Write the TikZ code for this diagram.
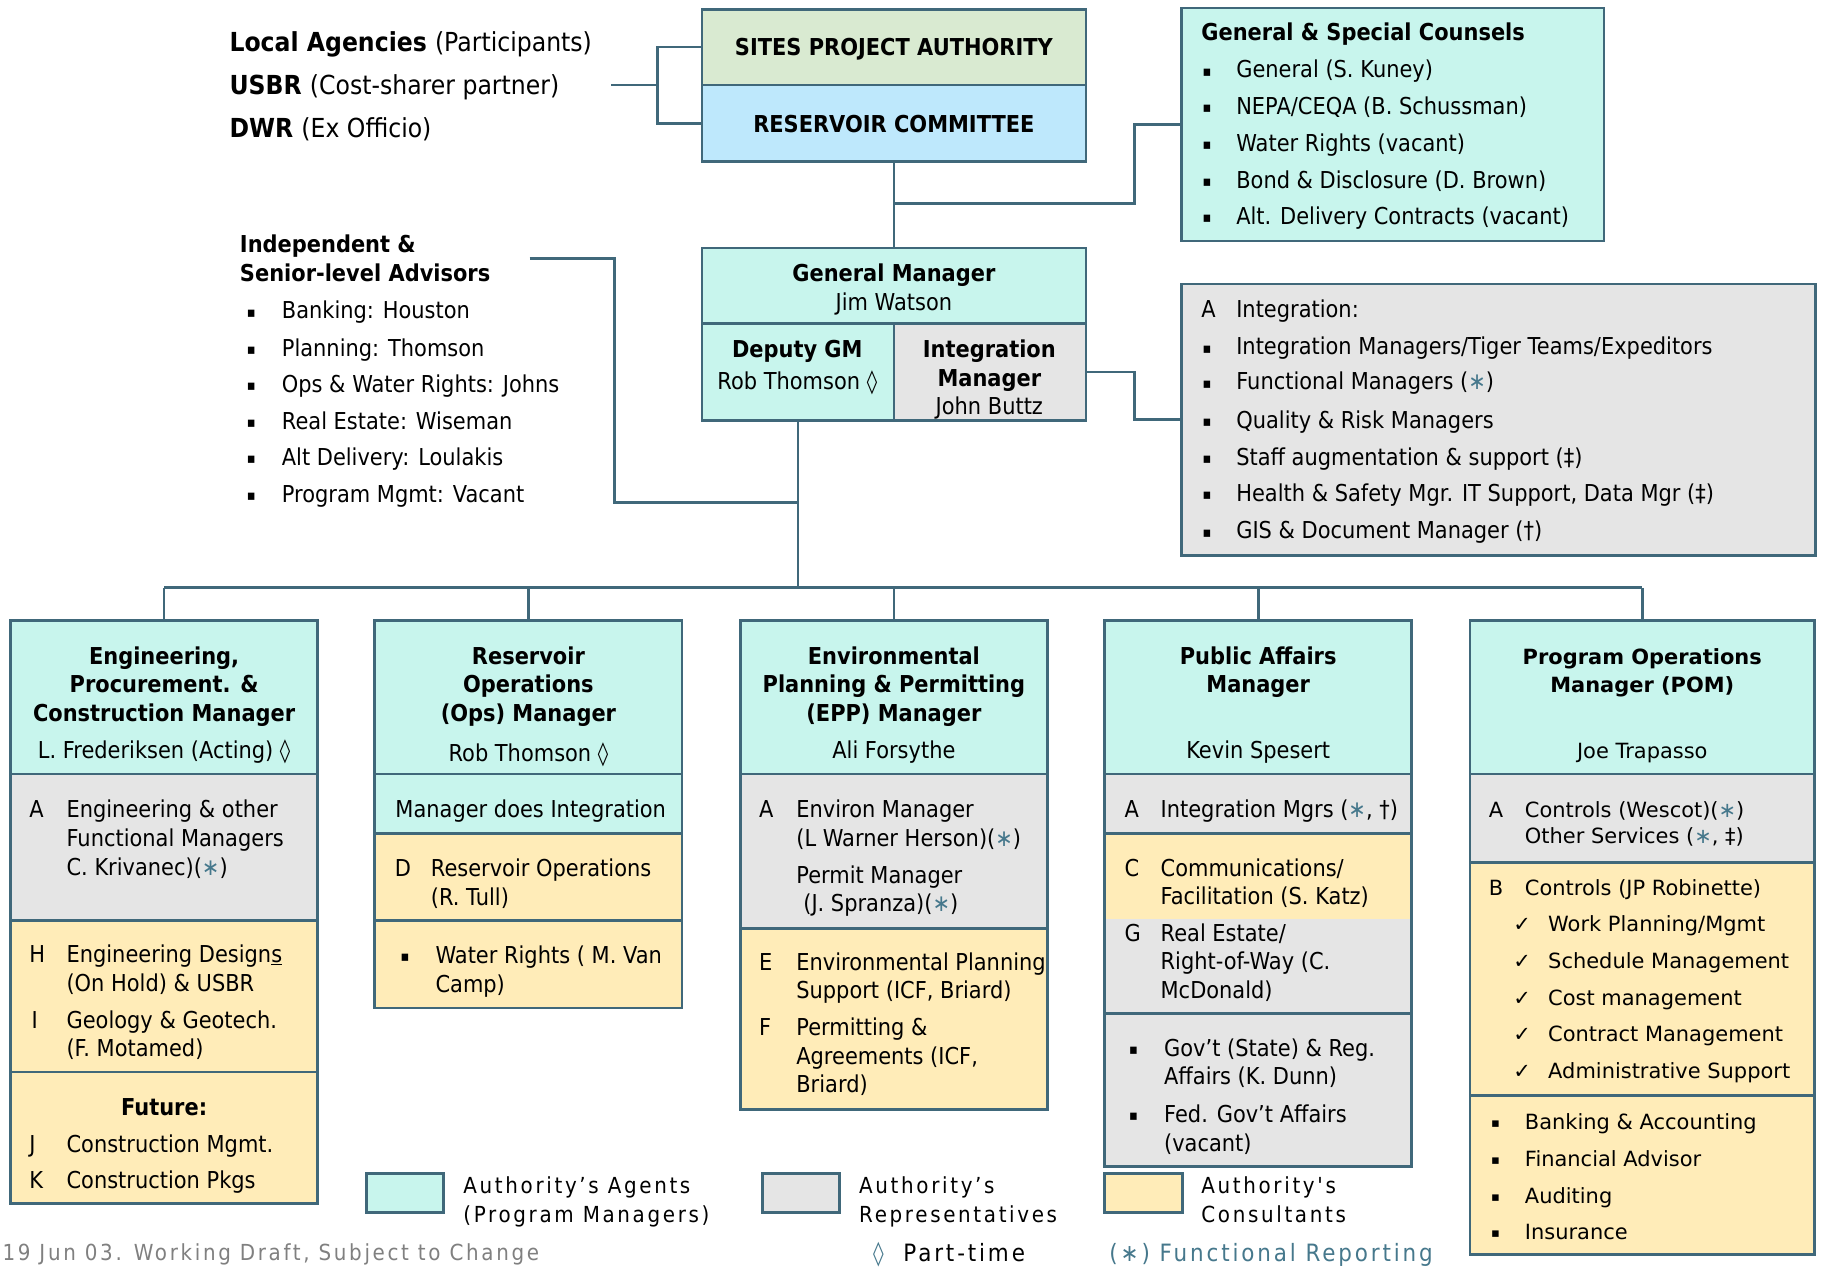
\documentclass[tikz,border=0pt]{standalone}
\usepackage{fontspec}
\setmainfont{DejaVu Sans}[FakeStretch=0.9]
\newfontfamily\verdfont{DejaVu Sans}
\newfontfamily\legfont{DejaVu Sans}[FakeStretch=0.9,LetterSpace=12]
\usetikzlibrary{fit}

\definecolor{agent}{RGB}{200,245,237}
\definecolor{rep}{RGB}{229,229,229}
\definecolor{cons}{RGB}{255,236,184}
\definecolor{auth}{RGB}{217,234,209}
\definecolor{comm}{RGB}{190,232,252}
\definecolor{edge}{RGB}{64,104,122}
\definecolor{star}{RGB}{70,120,140}
\definecolor{footgray}{RGB}{128,128,128}

\newcounter{tn}
\tikzset{
  tx/.style={anchor=base west, inner sep=0pt, font=\fontsize{20}{24}\selectfont},
  pom/.style={font=\verdfont\fontsize{18}{22}\selectfont},
  big/.style={font=\fontsize{22.5}{26}\selectfont},
  leg/.style={font=\legfont\fontsize{19}{23}\selectfont},
  legb/.style={font=\legfont\fontsize{20.5}{24}\selectfont},
  foot/.style={font=\legfont\fontsize{19}{22}\selectfont, text=footgray},
  box/.style={draw=edge, line width=2.3pt, inner sep=0pt},
  conn/.style={draw=edge, line width=2.3pt},
}
% text line: left aligned / centred, y given as visual middle of the line
\newcommand\tl[4][]{\stepcounter{tn}\node[tx,#1] (t\arabic{tn}) at (#2,{#3+7}) {#4};}
\newcommand\tc[4][]{\stepcounter{tn}\node[tx,anchor=base,#1] (t\arabic{tn}) at (#2,{#3+7}) {#4};}
\newcommand\bul{\raisebox{1.6pt}{\scalebox{0.62}{▪}}}
\newcommand\fstar{\textcolor{star}{∗}}
% section box from (x1,y1) to (x2,y2)
\newcommand\secbox[5][]{\node[box,fill=#5,fit={(#3) (#4)},#1] (#2) {};}

\begin{document}
\begin{tikzpicture}[x=1pt,y=-1pt]
\fill[white] (0,0) rectangle (1568,1089);
\useasboundingbox (0,0) rectangle (1568,1089);

% ---------- top boxes ----------
\secbox{sites}{603,8}{933,73}{auth}
\secbox{rc}{603,73}{933,139}{comm}
\secbox{cs}{1015,7}{1378,207}{agent}
\secbox{gm}{603,213}{933,278}{agent}
\secbox{dep}{603,278}{768,361}{agent}
\secbox{im}{768,278}{933,361}{rep}
\secbox{ib}{1015,244}{1560,477}{rep}

% ---------- columns ----------
\secbox{c1h}{9,533}{273,665}{agent}
\secbox{c1a}{9,665}{273,791}{rep}
\secbox{c1b}{9,791}{273,921}{cons}
\secbox{c1c}{9,921}{273,1034}{cons}

\secbox{c2h}{322,533}{586,665}{agent}
\secbox{c2a}{322,665}{586,716}{agent}
\secbox{c2b}{322,716}{586,791}{cons}
\secbox{c2c}{322,791}{586,866}{cons}

\secbox{c3h}{636,533}{900,665}{agent}
\secbox{c3a}{636,665}{900,798}{rep}
\secbox{c3b}{636,798}{900,953}{cons}

\secbox{c4h}{949,533}{1213,665}{agent}
\secbox{c4a}{949,665}{1213,716}{rep}
\secbox[draw=none]{c4c}{949,716}{1213,790}{cons}
\secbox[draw=none]{c4g}{949,790}{1213,871}{rep}
\node[box,fit={(949,716) (1213,871)}] (c4cg) {};
\secbox{c4d}{949,871}{1213,1002}{rep}

\secbox{c5h}{1263,533}{1559,665}{agent}
\secbox{c5a}{1263,665}{1559,741}{rep}
\secbox{c5b}{1263,741}{1559,941}{cons}
\secbox{c5c}{1263,941}{1559,1078}{cons}

% ---------- connectors ----------
\coordinate (ag) at (525,73);
\coordinate (ax) at (565,73);
\draw[conn] (ag) -- (ax);
\draw[conn] (sites.west) -- (sites.west -| ax) -- (rc.west -| ax) -- (rc.west);

\coordinate (j1) at (975,175);
\draw[conn] (rc.south) -- (gm.north);
\draw[conn] (rc.south |- j1) -- (j1) -- (j1 |- cs.west) -- (cs.west);
\draw[conn] (im.east) -| (j1 |- ib.west) -- (ib.west);

\coordinate (adv) at (455,222);
\coordinate (aj) at (528,432);
\draw[conn] (adv) -| (aj) -- (aj -| dep.south);

\coordinate (bus) at (0,505);
\draw[conn] (dep.south) -- (dep.south |- bus);
\draw[conn] (c1h.north |- bus) -- (c5h.north |- bus);
\foreach \c in {c1h,c2h,c3h,c4h,c5h}
  \draw[conn] (\c.north |- bus) -- (\c.north);

% ---------- top-left participants ----------
\tl[big]{197}{37}{\bfseries Local Agencies \mdseries(Participants)}
\tl[big]{197}{74}{\bfseries USBR \mdseries(Cost-sharer partner)}
\tl[big]{197}{111}{\bfseries DWR \mdseries(Ex Officio)}

\tc[font=\fontsize{20}{24}\selectfont\bfseries]{768}{41}{SITES PROJECT AUTHORITY}
\tc[font=\fontsize{20}{24}\selectfont\bfseries]{768}{107}{RESERVOIR COMMITTEE}

% ---------- counsels ----------
\tl{1032}{28}{\bfseries General \& Special Counsels}
\foreach \yy/\t in {60/{General (S. Kuney)}, 91/{NEPA/CEQA (B. Schussman)}, 123/{Water Rights (vacant)},
  155/{Bond \& Disclosure (D. Brown)}, 186/{Alt. Delivery Contracts (vacant)}}{
  \tl{1033}{\yy}{\bul}
  \tl{1062}{\yy}{\t}
}

% ---------- advisors ----------
\tl{206}{210}{\bfseries Independent \&}
\tl{206}{235}{\bfseries Senior-level Advisors}
\foreach \yy/\t in {267/{Banking: Houston}, 299/{Planning: Thomson}, 330/{Ops \& Water Rights: Johns},
  362/{Real Estate: Wiseman}, 393/{Alt Delivery: Loulakis}, 425/{Program Mgmt: Vacant}}{
  \tl{212}{\yy}{\bul}
  \tl{242}{\yy}{\t}
}

% ---------- general manager ----------
\tc{768}{235}{\bfseries General Manager}
\tc{768}{260}{Jim Watson}
\tc{685}{300}{\bfseries Deputy GM}
\tc{685}{328}{Rob Thomson ◊}
\tc{850}{300}{\bfseries Integration}
\tc{850}{325}{\bfseries Manager}
\tc{850}{349}{John Buttz}

% ---------- integration ----------
\tl{1032}{266}{A}
\tl{1062}{266}{Integration:}
\tl{1033}{298}{\bul}\tl{1062}{298}{Integration Managers/Tiger Teams/Expeditors}
\tl{1033}{328}{\bul}\tl{1062}{328}{Functional Managers (\fstar)}
\tl{1033}{361}{\bul}\tl{1062}{361}{Quality \& Risk Managers}
\tl{1033}{393}{\bul}\tl{1062}{393}{Staff augmentation \& support (‡)}
\tl{1033}{424}{\bul}\tl{1062}{424}{Health \& Safety Mgr. IT Support, Data Mgr (‡)}
\tl{1033}{456}{\bul}\tl{1062}{456}{GIS \& Document Manager (†)}

% ---------- column 1 ----------
\tc{141}{564}{\bfseries Engineering,}
\tc{141}{588}{\bfseries Procurement. \&}
\tc{141}{613}{\bfseries Construction Manager}
\tc{141}{645}{L. Frederiksen (Acting) ◊}
\tl{25}{695}{A}\tl{57}{695}{Engineering \& other}
\tl{57}{720}{Functional Managers}
\tl{57}{745}{C. Krivanec)(\fstar)}
\tl{25}{820}{H}\tl{57}{820}{Engineering Design\underline{s}}
\tl{57}{845}{(On Hold) \& USBR}
\tl{27}{877}{I}\tl{57}{877}{Geology \& Geotech.}
\tl{57}{901}{(F. Motamed)}
\tc{141}{951}{\bfseries Future:}
\tl{25}{983}{J}\tl{57}{983}{Construction Mgmt.}
\tl{25}{1014}{K}\tl{57}{1014}{Construction Pkgs}

% ---------- column 2 ----------
\tc{454}{564}{\bfseries Reservoir}
\tc{454}{588}{\bfseries Operations}
\tc{454}{613}{\bfseries (Ops) Manager}
\tc{454}{647}{Rob Thomson ◊}
\tc{456}{695}{Manager does Integration}
\tl{339}{746}{D}\tl{370}{746}{Reservoir Operations}
\tl{370}{771}{(R. Tull)}
\tl{344}{821}{\bul}\tl{374}{821}{Water Rights ( M. Van}
\tl{374}{846}{Camp)}

% ---------- column 3 ----------
\tc{768}{564}{\bfseries Environmental}
\tc{768}{588}{\bfseries Planning \& Permitting}
\tc{768}{613}{\bfseries (EPP) Manager}
\tc{768}{645}{Ali Forsythe}
\tl{652}{695}{A}\tl{684}{695}{Environ Manager}
\tl{684}{720}{(L Warner Herson)(\fstar)}
\tl{684}{752}{Permit Manager}
\tl{690}{776}{(J. Spranza)(\fstar)}
\tl{652}{827}{E}\tl{684}{827}{Environmental Planning}
\tl{684}{851}{Support (ICF, Briard)}
\tl{652}{883}{F}\tl{684}{883}{Permitting \&}
\tl{684}{908}{Agreements (ICF,}
\tl{684}{932}{Briard)}

% ---------- column 4 ----------
\tc{1081}{564}{\bfseries Public Affairs}
\tc{1081}{588}{\bfseries Manager}
\tc{1081}{645}{Kevin Spesert}
\tl{966}{695}{A}\tl{997}{695}{Integration Mgrs (\fstar, †)}
\tl{966}{746}{C}\tl{997}{746}{Communications/}
\tl{997}{770}{Facilitation (S. Katz)}
\tl{966}{802}{G}\tl{997}{802}{Real Estate/}
\tl{997}{826}{Right-of-Way (C.}
\tl{997}{851}{McDonald)}
\tl{970}{901}{\bul}\tl{1000}{901}{Gov’t (State) \& Reg.}
\tl{1000}{925}{Affairs (K. Dunn)}
\tl{970}{957}{\bul}\tl{1000}{957}{Fed. Gov’t Affairs}
\tl{1000}{982}{(vacant)}

% ---------- column 5 ----------
\tc[pom]{1411}{564}{\bfseries Program Operations}
\tc[pom]{1411}{588}{\bfseries Manager (POM)}
\tc[pom]{1411}{645}{Joe Trapasso}
\tl[pom]{1279}{695}{A}\tl[pom]{1310}{695}{Controls (Wescot)(\fstar)}
\tl[pom]{1310}{718}{Other Services (\fstar, ‡)}
\tl[pom]{1279}{762}{B}\tl[pom]{1310}{762}{Controls (JP Robinette)}
\foreach \yy/\t in {793/{Work Planning/Mgmt}, 825/{Schedule Management}, 857/{Cost management},
  888/{Contract Management}, 920/{Administrative Support}}{
  \tl[pom]{1300}{\yy}{✓}
  \tl[pom]{1330}{\yy}{\t}
}
\foreach \yy/\t in {963/{Banking \& Accounting}, 995/{Financial Advisor}, 1027/{Auditing}, 1058/{Insurance}}{
  \tl[pom]{1281}{\yy}{\bul}
  \tl[pom]{1310}{\yy}{\t}
}

% ---------- legend ----------
\secbox{lgA}{315,1008}{381,1042}{agent}
\secbox{lgR}{655,1008}{721,1042}{rep}
\secbox{lgC}{949,1008}{1016,1042}{cons}
\tl[leg]{398}{1018}{Authority’s Agents}
\tl[leg]{398}{1043}{(Program Managers)}
\tl[leg]{738}{1018}{Authority’s}
\tl[leg]{738}{1043}{Representatives}
\tl[leg]{1032}{1018}{Authority's}
\tl[leg]{1032}{1043}{Consultants}
\tl[legb]{750}{1077}{\textcolor{star}{◊}}
\tl[legb]{776}{1077}{Part-time}
\tl[legb,text=star]{953}{1077}{(∗) Functional Reporting}
\tl[foot]{2}{1076}{19 Jun 03. Working Draft, Subject to Change}
\end{tikzpicture}
\end{document}
